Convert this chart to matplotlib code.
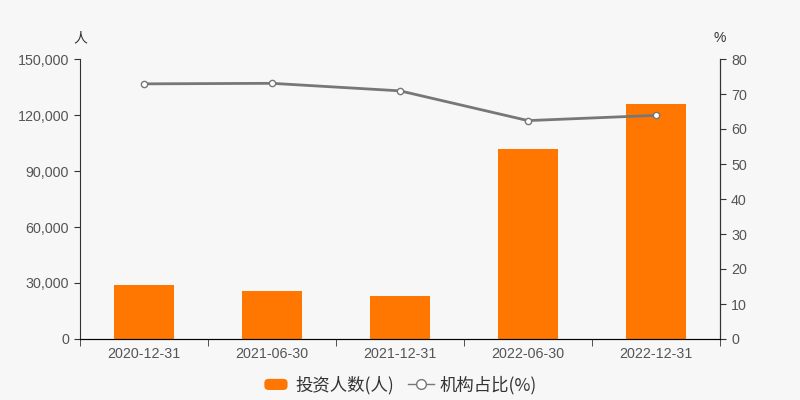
import matplotlib
matplotlib.use("Agg")
import matplotlib.pyplot as plt
from matplotlib.lines import Line2D
from matplotlib.patches import Patch, FancyBboxPatch
from matplotlib.legend_handler import HandlerPatch
from matplotlib.ticker import FuncFormatter, MultipleLocator

plt.rcParams['font.family'] = ['Liberation Sans', 'Noto Sans CJK SC', 'DejaVu Sans']

categories = ["2020-12-31", "2021-06-30", "2021-12-31", "2022-06-30", "2022-12-31"]
investors = [29100, 25500, 23200, 101800, 125800]
inst_ratio = [72.9, 73.05, 70.9, 62.4, 63.9]

bg = "#f7f7f7"
tick_color = "#555555"
fig = plt.figure(figsize=(8, 4), dpi=100, facecolor=bg)
ax = fig.add_axes([0.1, 0.1525, 0.8, 0.70])
ax.set_facecolor(bg)
x = list(range(len(categories)))
ax.bar(x, investors, width=0.47, color="#ff7700", zorder=2)
ax.set_xlim(-0.5, len(categories) - 0.5)
ax.set_ylim(0, 150000)
ax.yaxis.set_major_locator(MultipleLocator(30000))
ax.yaxis.set_major_formatter(FuncFormatter(lambda v, p: f"{int(v):,}"))
ax.set_xticks(x)
ax.set_xticklabels(categories)
ax.set_xticks([i - 0.5 for i in range(len(categories) + 1)], minor=True)
ax.tick_params(axis='x', which='major', length=0, pad=6, labelsize=10.3, colors=tick_color)
ax.tick_params(axis='x', which='minor', length=5, color="#333333")
ax.tick_params(axis='y', length=4, labelsize=10.3, labelcolor=tick_color, color="#333333", pad=4)
ax.spines["top"].set_visible(False)
for s in ["left", "bottom", "right"]:
    ax.spines[s].set_color("#333333")

ax2 = ax.twinx()
ax2.plot(x, inst_ratio, color="#777777", lw=2, marker='o', markersize=4.5,
         markerfacecolor="white", markeredgecolor="#777777", markeredgewidth=1, zorder=3)
ax2.set_ylim(0, 80)
ax2.yaxis.set_major_locator(MultipleLocator(10))
ax2.tick_params(axis='y', length=4, labelsize=10.3, labelcolor=tick_color, color="#333333", pad=4)
ax2.spines["top"].set_visible(False)
ax2.spines["right"].set_color("#333333")
ax2.spines["left"].set_visible(False)

fig.text(0.1, 0.905, "人", ha='center', va='center', fontsize=10, color="#333333",
         family=['Noto Sans CJK SC'])
fig.text(0.899, 0.905, "%", ha='center', va='center', fontsize=10, color="#333333")


class RoundHandler(HandlerPatch):
    def create_artists(self, legend, orig_handle, xdescent, ydescent, width, height, fontsize, trans):
        h = 8.0
        y0 = -ydescent + (height - h) / 2
        p = FancyBboxPatch((-xdescent + 1, y0), width - 2, h,
                           boxstyle="round,pad=0,rounding_size=3",
                           facecolor=orig_handle.get_facecolor(), edgecolor="none", transform=trans)
        return [p]


handles = [Patch(facecolor="#ff7700", edgecolor="none"),
           Line2D([0], [0], color="#777777", lw=1, marker='o', markersize=7,
                  markerfacecolor="white", markeredgecolor="#777777")]
fig.legend(handles, ["投资人数(人)", "机构占比(%)"], loc='center', bbox_to_anchor=(0.5, 0.037),
           ncol=2, frameon=False, handlelength=1.5, handletextpad=0.35,
           columnspacing=0.8, labelcolor="#333333",
           handler_map={Patch: RoundHandler()},
           prop={'family': ['Noto Sans CJK SC', 'DejaVu Sans'], 'size': 12.5})

fig.savefig("out.png", dpi=100, facecolor=bg)
